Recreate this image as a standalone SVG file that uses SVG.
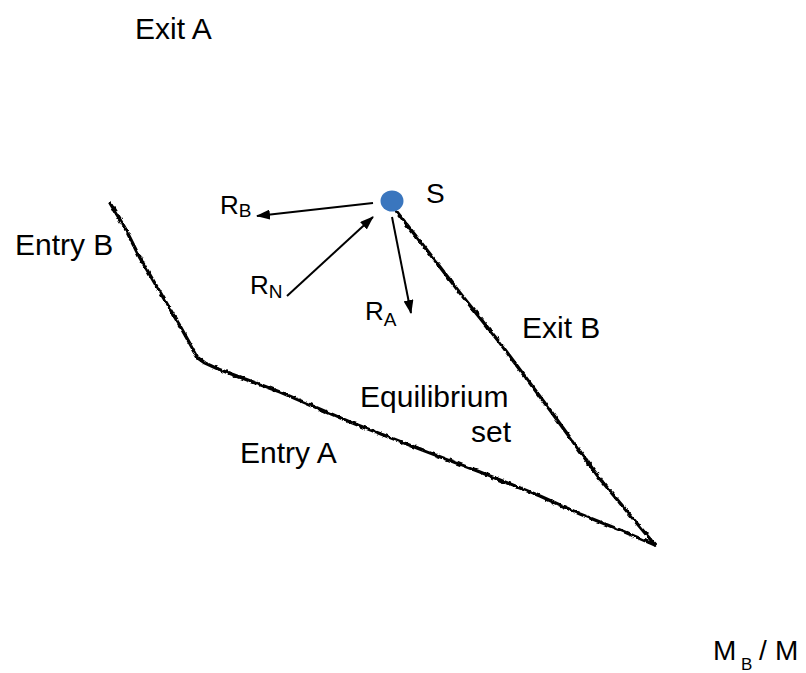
<svg xmlns="http://www.w3.org/2000/svg" width="806" height="673" viewBox="0 0 806 673">
<style>
text{font-family:"Liberation Sans",Arial,sans-serif;fill:#000}
.lbl{font-size:30px}
.r{font-size:26px}
.sub{font-size:19px}
.edge{fill:none;stroke:#000;stroke-width:3.4;stroke-linejoin:round;stroke-linecap:round;filter:url(#rough)}
.arr{fill:none;stroke:#000;stroke-width:2;marker-end:url(#ah)}
</style>
<defs>
<filter id="rough" x="-5%" y="-5%" width="110%" height="110%">
<feTurbulence type="fractalNoise" baseFrequency="0.2" numOctaves="2" seed="3" result="n"/>
<feDisplacementMap in="SourceGraphic" in2="n" scale="3.5" xChannelSelector="R" yChannelSelector="G"/>
</filter>
<marker id="ah" viewBox="0 0 14 10" refX="13" refY="5" markerWidth="14" markerHeight="10" markerUnits="userSpaceOnUse" orient="auto">
<path d="M0,0 L14,5 L0,10 Z" fill="#000"/>
</marker>
</defs>
<g id="connectors">
<path id="entryB" class="edge" d="M110,203 L125,228 L140,258 L160,292 L180,326 L198,358 L205,363 L218,369"/>
<path id="entryA" class="edge" d="M218,369 L280,392 L350,422 L417,448 L480,472 L540,496 L580,514 L620,530 L655,545"/>
<path id="exitB" class="edge" d="M397,212 L430,254 L460,293 L500,343 L550,410 L600,479 L630,515 L655,545"/>
<line class="arr" x1="373" y1="203" x2="257" y2="216"/>
<line class="arr" x1="287" y1="296" x2="373" y2="217"/>
<line class="arr" x1="392" y1="217" x2="411" y2="313"/>
</g>
<g id="S">
<ellipse cx="392" cy="201" rx="11.5" ry="10.5" fill="#3A76BE"/>
<text x="426" y="203" font-size="28">S</text>
</g>
<g id="labels">
<text class="lbl" x="135" y="39">Exit A</text>
<text class="lbl" x="15" y="255">Entry B</text>
<text class="lbl" x="522" y="338">Exit B</text>
<text class="lbl" x="360" y="407">Equilibrium</text>
<text class="lbl" x="471" y="442">set</text>
<text class="lbl" x="240" y="463">Entry A</text>
<text class="r" x="220" y="214">R<tspan class="sub" dy="3">B</tspan></text>
<text class="r" x="250" y="294">R<tspan class="sub" dy="4">N</tspan></text>
<text class="r" x="365" y="320">R<tspan class="sub" dy="6">A</tspan></text>
<text font-size="28" x="713" y="660">M</text>
<text font-size="17" x="741" y="670">B</text>
<text font-size="28" x="759" y="660">/</text>
<text font-size="28" x="775" y="660">M</text>
</g>
</svg>
